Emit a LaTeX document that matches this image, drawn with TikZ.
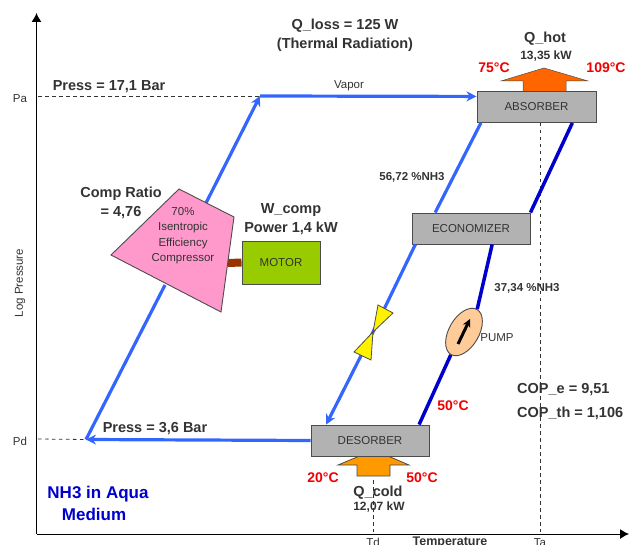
\documentclass[tikz,border=0pt]{standalone}
\usepackage{fontspec}
\setmainfont{Liberation Sans}
\usetikzlibrary{arrows.meta,shapes.geometric}
\definecolor{richblue}{HTML}{3366FF}
\definecolor{weakblue}{HTML}{0000CC}
\definecolor{boxgrey}{HTML}{B2B2B2}
\definecolor{textgrey}{HTML}{333333}
\definecolor{comppink}{HTML}{FF99CC}
\definecolor{motorgreen}{HTML}{99CC00}
\definecolor{hotorange}{HTML}{FF6600}
\definecolor{coldorange}{HTML}{FF9900}
\definecolor{pumppeach}{HTML}{FFCC99}
\definecolor{shaftbrown}{HTML}{993300}
\tikzset{
  smalltxt/.style={font=\fontsize{11.5}{15.5}\selectfont,text=textgrey,inner sep=0pt,align=center},
  smallbold/.style={font=\bfseries\fontsize{11.5}{14}\selectfont,text=textgrey,inner sep=0pt,align=center},
  bigtxt/.style={font=\bfseries\fontsize{14.5}{19}\selectfont,text=textgrey,inner sep=0pt,align=center},
  redtxt/.style={font=\bfseries\fontsize{14}{16}\selectfont,text=red!95!black,inner sep=0pt},
  unitbox/.style={draw=black!70,line width=0.9pt,fill=boxgrey,minimum width=118pt,minimum height=31pt,inner sep=0pt,font=\fontsize{11.5}{14}\selectfont,text=textgrey},
  richline/.style={richblue,line width=3.2pt},
  richarrow/.style={richline,-{Stealth[length=10pt,width=10pt]}},
  weakline/.style={weakblue,line width=3.5pt},
  guide/.style={black!80,line width=0.8pt,dash pattern=on 3.5pt off 3.5pt},
  axis/.style={black,line width=1pt,-{Latex[length=9pt,width=10pt]}}
}
\begin{document}
\begin{tikzpicture}[x=1pt,y=-1pt]
\useasboundingbox (0,0) rectangle (629,545);
\coordinate (origin) at (36.5,534);
\coordinate (top) at (36.5,13);
\coordinate (right) at (629,534);
\coordinate (Pa) at (260,96);
\coordinate (Pd) at (86,439.5);
\coordinate (Palabel) at (38,96);
\coordinate (Pdlabel) at (38,439);
\coordinate (compin) at (165,285);
\coordinate (compout) at (206,203);
\coordinate (valve) at (373,332);
\coordinate (shaft) at (228,263);
\coordinate (Tatop) at (540,123);
\coordinate (Tabot) at (540,532);
\coordinate (Tdtop) at (373,480);
\coordinate (Tdbot) at (373,532);
\draw[guide] (Palabel) -- (Pa);
\draw[guide] (Pdlabel) -- (Pd);
\draw[guide] (Tatop) -- (Tabot);
\draw[guide] (Tdtop) -- (Tdbot);
\draw[axis] (origin) -- (top);
\draw[axis] (origin) -- (right);
\draw[draw=black!70,line width=0.8pt,fill=coldorange] (357,476) -- (390,476) -- (390,465) -- (409,465) -- (374,450) -- (338,465) -- (357,465) -- cycle;
\draw[draw=black!70,line width=0.5pt,fill=hotorange] (523,92) -- (523,81) -- (501,81) -- (544,68) -- (588,81) -- (566,81) -- (566,92) -- cycle;
\node[unitbox,minimum width=119pt] (absorber) at (536.5,107) {ABSORBER};
\node[unitbox] (economizer) at (471,228.5) {ECONOMIZER};
\node[unitbox] (desorber) at (370,440.5) {DESORBER};
\node[draw=black!70,line width=0.9pt,fill=motorgreen,minimum width=78pt,minimum height=43pt,inner sep=0pt,font=\fontsize{11.5}{14}\selectfont,text=textgrey] (motor) at (281,262.5) {MOTOR};
\draw[richarrow] (compout) -- (Pa);
\draw[richarrow] (Pa) -- (absorber.170.5);
\draw[richarrow] (desorber.west) -- (Pd);
\draw[richline] (Pd) -- (compin);
\draw[richline] (absorber.196.1) -- (economizer.156.7);
\draw[richline] (economizer.196.3) -- (valve);
\draw[richarrow] (valve) -- (desorber.160.2);
\draw[shaftbrown,line width=8pt] (shaft) -- (motor.west);
\draw[draw=black!70,line width=0.9pt,fill=comppink] (179,189) -- (234,217) -- (221,312) -- (111,255) -- cycle;
\node[smalltxt] (comptxt) at (183,235.5) {70\%\\Isentropic\\Efficiency\\Compressor};
\draw[draw=black!70,line width=0.8pt,fill=yellow] (valve) -- (378,305) -- (393,313) -- cycle;
\draw[draw=black!70,line width=0.8pt,fill=yellow] (valve) -- (354,352) -- (371,360) -- cycle;
\node[ellipse,draw=black!70,line width=0.9pt,fill=pumppeach,minimum width=30pt,minimum height=52pt,inner sep=0pt,rotate=-30] (pump) at (464,332) {};
\draw[black,line width=3pt,-{Stealth[length=8pt,width=8pt]}] (pump.center) ++(-6,12) -- ++(12,-25);
\draw[weakline] (desorber.18.2) -- (pump.south);
\draw[weakline] (pump.north) -- (economizer.323.6);
\draw[weakline] (economizer.15.5) -- (absorber.336.3);
\node[bigtxt] (presshi) at (109,86.5) {Press = 17,1 Bar};
\node[bigtxt] (presslo) at (155,428.5) {Press = 3,6 Bar};
\node[smalltxt] (pa) at (20,99) {Pa};
\node[smalltxt] (pd) at (20,441) {Pd};
\node[smalltxt,rotate=90] (logp) at (20,283) {Log Pressure};
\node[bigtxt] (ratio) at (121,203) {Comp Ratio\\= 4,76};
\node[bigtxt] (wcomp) at (291,219.5) {W\_comp\\Power 1,4 kW};
\node[bigtxt] (qloss) at (345,35.5) {Q\_loss = 125 W\\(Thermal Radiation)};
\node[bigtxt] (qhot) at (545,39) {Q\_hot};
\node[smallbold,font=\bfseries\fontsize{12}{14}\selectfont] (qhotval) at (546,56) {13,35 kW};
\node[redtxt] (tabsin) at (494,68) {75°C};
\node[redtxt] (tabsout) at (606,68) {109°C};
\node[smalltxt] (vapor) at (349,86) {Vapor};
\node[smallbold] (rich) at (412,177) {56,72 \%NH3};
\node[smallbold] (weak) at (527,288) {37,34 \%NH3};
\node[smalltxt] (pumptxt) at (497,338) {PUMP};
\node[bigtxt,anchor=west] (cope) at (517,390) {COP\_e = 9,51};
\node[bigtxt,anchor=west] (copth) at (517,413.5) {COP\_th = 1,106};
\node[redtxt] (tpump) at (453,406) {50°C};
\node[redtxt] (tdesin) at (323,478) {20°C};
\node[redtxt] (tdesout) at (422,478) {50°C};
\node[bigtxt] (qcold) at (378,493) {Q\_cold};
\node[smallbold,font=\bfseries\fontsize{12}{14}\selectfont] (qcoldval) at (379,507) {12,07 kW};
\node[smalltxt] (td) at (373,542.5) {Td};
\node[smallbold,font=\bfseries\fontsize{12.5}{14}\selectfont] (temp) at (450,542.5) {Temperature};
\node[smalltxt] (ta) at (540,542.5) {Ta};
\node[font=\bfseries\fontsize{17}{21.5}\selectfont,text=weakblue,inner sep=0pt,align=center] (medium) at (98,503.5) {NH3 in Aqua\\Medium\hspace*{8pt}};
\end{tikzpicture}
\end{document}
